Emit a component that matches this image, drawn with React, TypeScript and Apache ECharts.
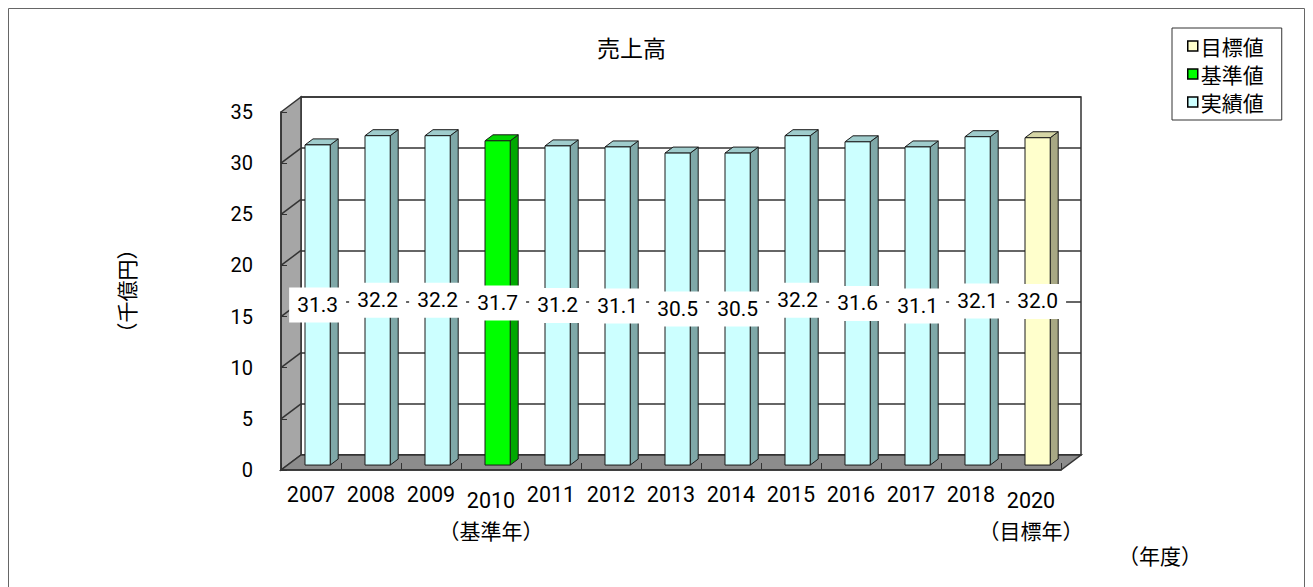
import React, { useEffect, useRef } from "react";
import * as echarts from "echarts";

const categories = ["2007", "2008", "2009", "2010", "2011", "2012", "2013", "2014", "2015", "2016", "2017", "2018", "2020"];
const categoryNotes: Record<string, string> = { "2010": "（基準年）", "2020": "（目標年）" };
const actualValues: (number | null)[] = [31.3, 32.2, 32.2, null, 31.2, 31.1, 30.5, 30.5, 32.2, 31.6, 31.1, 32.1, null];
const baselineValues: (number | null)[] = [null, null, null, 31.7, null, null, null, null, null, null, null, null, null];
const targetValues: (number | null)[] = [null, null, null, null, null, null, null, null, null, null, null, null, 32.0];
const yTicks = [0, 5, 10, 15, 20, 25, 30, 35];
const seriesNames = { target: "目標値", baseline: "基準値", actual: "実績値" };
const titleText = "売上高";
const yAxisName = "（千億円）";
const xAxisName = "（年度）";

const NUM = 'Roboto, "Noto Sans CJK JP", sans-serif';
const JP = '"Noto Sans CJK JP", sans-serif';
const DX = 20;
const DY = -15;
const BAR_FRONT = 0.33;
const BAR_BACK = 0.73;
const Y_MAX = yTicks[yTicks.length - 1];

function toData(values: (number | null)[]) {
  const out: [number, number][] = [];
  values.forEach((v, i) => {
    if (v != null) out.push([i, v]);
  });
  return out;
}

function makeBarRender(front: string, side: string, top: string) {
  return (params: any, api: any) => {
    const idx = api.value(0);
    const v = api.value(1);
    const base = api.coord([idx, 0]);
    const tp = api.coord([idx, v]);
    const band = api.size([1, 0])[0];
    const w = band * 0.42;
    const fx = base[0] + DX * BAR_FRONT;
    const fy0 = base[1] + DY * BAR_FRONT;
    const fy1 = tp[1] + DY * BAR_FRONT;
    const x0 = fx - w / 2;
    const x1 = fx + w / 2;
    const ddx = DX * (BAR_BACK - BAR_FRONT);
    const ddy = DY * (BAR_BACK - BAR_FRONT);
    const stroke = { stroke: "#1a1a1a", lineWidth: 1 };
    return {
      type: "group",
      children: [
        { type: "polygon", shape: { points: [[x1, fy0], [x1 + ddx, fy0 + ddy], [x1 + ddx, fy1 + ddy], [x1, fy1]] }, style: { fill: side, ...stroke } },
        { type: "polygon", shape: { points: [[x0, fy1], [x1, fy1], [x1 + ddx, fy1 + ddy], [x0 + ddx, fy1 + ddy]] }, style: { fill: top, ...stroke } },
        { type: "polygon", shape: { points: [[x0, fy0], [x1, fy0], [x1, fy1], [x0, fy1]] }, style: { fill: front, ...stroke } },
        {
          type: "text",
          x: fx,
          y: (fy0 + fy1) / 2,
          z2: 10,
          style: {
            text: Number(v).toFixed(1),
            fontFamily: NUM,
            fontSize: 21,
            fill: "#000",
            backgroundColor: "#fff",
            padding: [7, 8],
            align: "center",
            verticalAlign: "middle",
          },
        },
      ],
    };
  };
}

function renderWalls(params: any, api: any) {
  const n = categories.length;
  const band = api.size([1, 0])[0];
  const left = api.coord([0, 0])[0] - band / 2;
  const right = api.coord([n - 1, 0])[0] + band / 2;
  const y0 = api.coord([0, 0])[1];
  const yTop = api.coord([0, Y_MAX])[1];
  const children: any[] = [];
  children.push({
    type: "polygon",
    shape: { points: [[left, y0], [left, yTop], [left + DX, yTop + DY], [left + DX, y0 + DY]] },
    style: { fill: "#a6a6a6", stroke: "#333", lineWidth: 1.5 },
  });
  yTicks.forEach((t) => {
    if (t === 0 || t === Y_MAX) return;
    const y = api.coord([0, t])[1];
    children.push({
      type: "line",
      shape: { x1: left, y1: y, x2: left + DX, y2: y + DY },
      style: { stroke: "#333", lineWidth: 1.5 },
    });
  });
  children.push({
    type: "polygon",
    shape: { points: [[left, y0], [right, y0], [right + DX, y0 + DY], [left + DX, y0 + DY]] },
    style: { fill: "#8c8c8c", stroke: "#333", lineWidth: 1.5 },
  });
  return { type: "group", children };
}

export default function App() {
  const ref = useRef<HTMLDivElement>(null);
  useEffect(() => {
    if (!ref.current) return;
    const chart = echarts.init(ref.current, undefined, { renderer: "svg" });
    const option: any = {
      animation: false,
      backgroundColor: "#fff",
      title: {
        text: titleText,
        left: 597,
        top: 35,
        padding: 0,
        textStyle: { fontFamily: JP, fontSize: 23, fontWeight: "normal", color: "#000" },
      },
      legend: {
        data: [seriesNames.target, seriesNames.baseline, seriesNames.actual],
        orient: "vertical",
        left: 1172,
        top: 28,
        padding: [7, 18, 7, 15],
        itemGap: 6,
        itemWidth: 10,
        itemHeight: 10,
        itemStyle: { borderColor: "#000", borderWidth: 1.5 },
        icon: "rect",
        borderColor: "#333",
        borderWidth: 1,
        backgroundColor: "#fff",
        textStyle: { fontFamily: JP, fontSize: 21, color: "#000", lineHeight: 22, padding: [0, 0, 0, -2] },
      },
      grid: [
        { left: 281, right: 252, top: 112, bottom: 117, show: false },
        { left: 301, right: 232, top: 97, bottom: 132, show: true, backgroundColor: "#fff", borderColor: "#333", borderWidth: 1.5 },
      ],
      xAxis: [
        {
          gridIndex: 0,
          type: "category",
          data: categories,
          boundaryGap: true,
          axisLine: { show: true, lineStyle: { color: "#333", width: 1.5 } },
          axisTick: { show: true, inside: true, length: 7, lineStyle: { color: "#333" } },
          axisLabel: {
            margin: 12,
            interval: 0,
            formatter: (v: string) => (categoryNotes[v] ? `{n2|${v}}\n{j|${categoryNotes[v]}}` : `{n|${v}}`),
            rich: {
              n: { fontFamily: NUM, fontSize: 21.5, lineHeight: 24, color: "#000" },
              n2: { fontFamily: NUM, fontSize: 21.5, lineHeight: 36, color: "#000" },
              j: { fontFamily: JP, fontSize: 21, lineHeight: 24, color: "#000" },
            },
          },
          z: 5,
        },
        {
          gridIndex: 1,
          type: "category",
          data: categories,
          axisLine: { show: false },
          axisTick: { show: false },
          axisLabel: { show: false },
          splitLine: { show: false },
        },
      ],
      yAxis: [
        {
          gridIndex: 0,
          type: "value",
          min: 0,
          max: Y_MAX,
          interval: 5,
          axisLine: { show: true, lineStyle: { color: "#333", width: 1.5 } },
          axisTick: { show: true, inside: true, length: 6, lineStyle: { color: "#333" } },
          axisLabel: { margin: 28, fontFamily: NUM, fontSize: 20, color: "#000" },
          splitLine: { show: false },
          name: yAxisName,
          nameLocation: "middle",
          nameGap: 145,
          nameTextStyle: { fontFamily: JP, fontSize: 21, color: "#000" },
          z: 5,
        },
        {
          gridIndex: 1,
          type: "value",
          min: 0,
          max: Y_MAX,
          interval: 5,
          axisLine: { show: false },
          axisTick: { show: false },
          axisLabel: { show: false },
          splitLine: { show: true, lineStyle: { color: "#333", width: 1.5 } },
        },
      ],
      graphic: [
        {
          type: "rect",
          shape: { x: 8.5, y: 8.5, width: 1296, height: 600 },
          style: { fill: "none", stroke: "#666", lineWidth: 1 },
          silent: true,
        },
        {
          type: "text",
          x: 1160,
          y: 555,
          style: { text: xAxisName, fontFamily: JP, fontSize: 21, fill: "#000", align: "center", verticalAlign: "middle" },
        },
      ],
      series: [
        {
          type: "custom",
          name: "walls",
          xAxisIndex: 0,
          yAxisIndex: 0,
          clip: false,
          z: 1,
          silent: true,
          data: [[0, 0]],
          renderItem: renderWalls,
        },
        {
          type: "custom",
          name: seriesNames.actual,
          xAxisIndex: 0,
          yAxisIndex: 0,
          clip: false,
          z: 2,
          itemStyle: { color: "#ccffff" },
          data: toData(actualValues),
          encode: { x: 0, y: 1 },
          renderItem: makeBarRender("#ccffff", "#7fa8a8", "#9fcccc"),
        },
        {
          type: "custom",
          name: seriesNames.baseline,
          xAxisIndex: 0,
          yAxisIndex: 0,
          clip: false,
          z: 2,
          itemStyle: { color: "#00ff00" },
          data: toData(baselineValues),
          encode: { x: 0, y: 1 },
          renderItem: makeBarRender("#00ff00", "#00a800", "#00d400"),
        },
        {
          type: "custom",
          name: seriesNames.target,
          xAxisIndex: 0,
          yAxisIndex: 0,
          clip: false,
          z: 2,
          itemStyle: { color: "#ffffcc" },
          data: toData(targetValues),
          encode: { x: 0, y: 1 },
          renderItem: makeBarRender("#ffffcc", "#a8a884", "#d6d6a6"),
        },
      ],
    };
    chart.setOption(option);
    return () => chart.dispose();
  }, []);
  return <div ref={ref} style={{ position: "absolute", left: 0, top: 0, width: 1313, height: 587 }} />;
}
